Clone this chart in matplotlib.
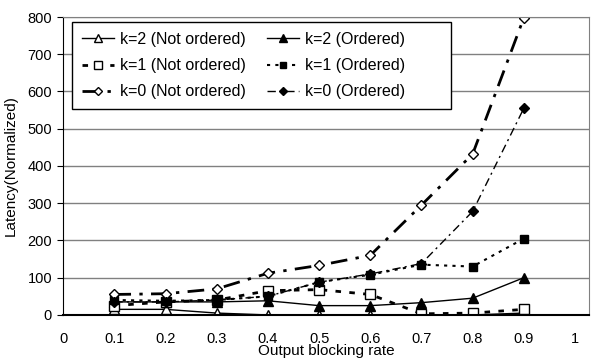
import matplotlib.pyplot as plt

plt.rcParams['font.family'] = ['Liberation Sans', 'DejaVu Sans']

rate = [0.1, 0.2, 0.3, 0.4, 0.5, 0.6, 0.7, 0.8, 0.9]

k2_not = [15, 15, 5, 0, 0, 0, 0, 0, 5]
k2_ord = [35, 35, 35, 38, 25, 25, 33, 45, 100]
k1_not = [25, 35, 40, 65, 68, 55, 3, 5, 15]
k1_ord = [40, 38, 40, 50, 88, 108, 135, 130, 205]
k0_not = [55, 57, 70, 112, 133, 160, 295, 432, 798]
k0_ord = [35, 35, 40, 50, 88, 110, 138, 278, 555]

fig = plt.figure(figsize=(5.96, 3.62), dpi=100)
ax = fig.add_axes([0.106, 0.130, 0.882, 0.823])

h1, = ax.plot(rate, k2_not, color='black', lw=1, marker='^', ms=7, mfc='white', mec='black',
              label='k=2 (Not ordered)')
h2, = ax.plot(rate, k2_ord, color='black', lw=1, marker='^', ms=7, mfc='black', mec='black',
              label='k=2 (Ordered)')
h3, = ax.plot(rate, k1_not, color='black', lw=2, ls=(0, (2, 3)), marker='s', ms=7, mfc='white',
              mec='black', label='k=1 (Not ordered)')
h4, = ax.plot(rate, k1_ord, color='black', lw=1.5, ls=(0, (1.5, 2.5)), marker='s', ms=6,
              mfc='black', mec='black', label='k=1 (Ordered)')
h5, = ax.plot(rate, k0_not, color='black', lw=2, ls=(0, (6, 3, 1.2, 3)), marker='D', ms=5,
              mfc='white', mec='black', label='k=0 (Not ordered)')
h6, = ax.plot(rate, k0_ord, color='black', lw=1, ls=(0, (6, 3, 1.5, 3)), marker='D', ms=5,
              mfc='black', mec='black', label='k=0 (Ordered)')

ax.set_xlim(0, 1.027)
ax.set_ylim(0, 800)
ax.set_xticks([0, 0.1, 0.2, 0.3, 0.4, 0.5, 0.6, 0.7, 0.8, 0.9, 1])
ax.set_xticklabels(['0', '0.1', '0.2', '0.3', '0.4', '0.5', '0.6', '0.7', '0.8', '0.9', '1'])
ax.set_yticks(range(0, 801, 100))
ax.yaxis.grid(True, color='#808080', lw=1)
ax.set_axisbelow(True)
ax.tick_params(axis='x', length=0, labelsize=10.5, pad=12)
ax.tick_params(axis='y', length=4, direction='out', labelsize=10.5, pad=4)

for s in ['top', 'right']:
    ax.spines[s].set_color('#808080')
ax.spines['left'].set_color('black')
ax.spines['bottom'].set_color('black')
ax.spines['bottom'].set_linewidth(1.5)

ax.set_xlabel('Output blocking rate', fontsize=11, labelpad=-1)
ax.set_ylabel('Latency(Normalized)', fontsize=11)
ax.yaxis.set_label_coords(-0.086, 0.5)

# row-wise order like the original legend; trailing spaces widen the box on the right
pad = '\u00a0' * 8
leg = ax.legend([h1, h3, h5, h2, h4, h6],
                ['k=2 (Not ordered)', 'k=1 (Not ordered)', 'k=0 (Not ordered)',
                 'k=2 (Ordered)' + pad, 'k=1 (Ordered)' + pad, 'k=0 (Ordered)' + pad],
                ncol=2, loc='upper left', bbox_to_anchor=(0.017, 0.982), fontsize=11.5,
                frameon=True, fancybox=False, edgecolor='black', framealpha=1,
                handlelength=2.0, handletextpad=0.4, columnspacing=1.3,
                labelspacing=0.7, borderpad=0.6, markerscale=0.8, borderaxespad=0)
leg.get_frame().set_linewidth(1)

fig.savefig('out.png', dpi=100)
